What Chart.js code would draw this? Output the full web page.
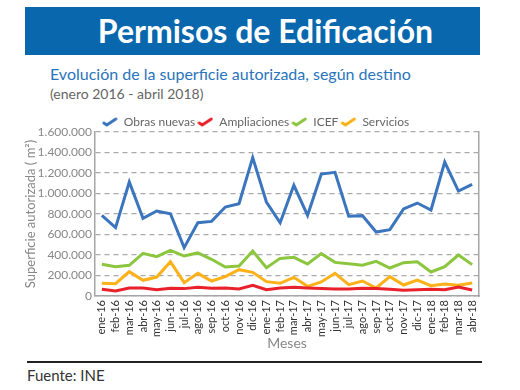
<!DOCTYPE html>
<html lang="es">
<head>
<meta charset="utf-8">
<script src="https://cdn.jsdelivr.net/npm/chart.js@4.4.1/dist/chart.umd.min.js"></script>
<style>
  html, body { margin: 0; padding: 0; background: #fff; }
  body { width: 520px; height: 390px; position: relative; overflow: hidden; font-family: Lato, "Open Sans", sans-serif; }
  .banner { position: absolute; left: 25px; top: 7px; width: 455px; height: 48px; background: #0867ad; color: #fff;
    font-weight: bold; font-size: 32px; line-height: 48px; text-align: center; padding-left: 26px; box-sizing: border-box; }
  .sub { position: absolute; left: 50px; top: 64px; font-size: 16px; color: #2a74bb; }
  .fecha { position: absolute; left: 50px; top: 85px; font-size: 14px; color: #666; }
  .wrap { position: absolute; left: 0; top: 100px; width: 520px; height: 260px; }
  .regla { position: absolute; left: 27px; top: 361px; width: 455px; height: 2px; background: #222; }
  .fuente { position: absolute; left: 27px; top: 366px; font-size: 15px; color: #333; }
</style>
</head>
<body>
<div class="banner">Permisos de Edificación</div>
<div class="sub">Evolución de la superficie autorizada, según destino</div>
<div class="fecha">(enero 2016 - abril 2018)</div>
<div class="wrap"><canvas id="grafico"></canvas></div>
<div class="regla"></div>
<div class="fuente">Fuente: INE</div>

<script>
// ==================== DATOS ====================
const meses = [
  "ene-16", "feb-16", "mar-16", "abr-16", "may-16", "jun-16", "jul-16", "ago-16", "sep-16", "oct-16", "nov-16", "dic-16",
  "ene-17", "feb-17", "mar-17", "abr-17", "may-17", "jun-17", "jul-17", "ago-17", "sep-17", "oct-17", "nov-17", "dic-17",
  "ene-18", "feb-18", "mar-18", "abr-18"
];
const obrasNuevas = [
  787000, 667000, 1112000, 758000, 829000, 803000, 472000, 715000, 728000, 868000, 900000, 1350000,
  917000, 715000, 1080000, 787000, 1190000, 1207000, 779000, 784000, 624000, 647000, 849000, 907000,
  839000, 1307000, 1024000, 1089000
];
const ampliaciones = [
  65000, 49000, 78000, 78000, 62000, 75000, 72000, 85000, 75000, 78000, 68000, 104000,
  62000, 78000, 85000, 78000, 72000, 68000, 68000, 75000, 72000, 65000, 55000, 62000,
  65000, 62000, 88000, 59000
];
const icef = [
  309000, 286000, 299000, 416000, 384000, 445000, 390000, 420000, 358000, 283000, 293000, 439000,
  276000, 367000, 377000, 312000, 413000, 328000, 315000, 300000, 338000, 273000, 325000, 334000,
  234000, 286000, 400000, 306000
];
const servicios = [
  124000, 120000, 237000, 153000, 185000, 335000, 130000, 221000, 146000, 189000, 257000, 231000,
  140000, 124000, 182000, 94000, 137000, 221000, 111000, 146000, 78000, 189000, 107000, 156000,
  101000, 117000, 104000, 127000
];
const yTicks = [0, 200000, 400000, 600000, 800000, 1000000, 1200000, 1400000, 1600000];

// ==================== MARCA DE LEYENDA ====================
function marca(cor) {
  const c = document.createElement("canvas");
  c.width = 16;
  c.height = 10;
  const g = c.getContext("2d");
  g.strokeStyle = cor;
  g.lineWidth = 3;
  g.lineCap = "round";
  g.beginPath();
  g.moveTo(2, 6);
  g.lineTo(5, 8);
  g.lineTo(14, 2);
  g.stroke();
  return c;
}

function serie(label, data, cor) {
  return {
    label: label,
    data: data,
    borderColor: cor,
    backgroundColor: cor,
    borderWidth: 3,
    pointRadius: 0,
    tension: 0,
    fill: false,
    pointStyle: marca(cor),
  };
}

new Chart(document.getElementById("grafico"), {
  type: "line",
  data: {
    labels: meses,
    datasets: [
      serie("Obras nuevas", obrasNuevas, "#3b75bd"),
      serie("Ampliaciones", ampliaciones, "#e8212b"),
      serie("ICEF", icef, "#8cc63f"),
      serie("Servicios", servicios, "#fbb117"),
    ],
  },
  options: {
    responsive: true,
    maintainAspectRatio: false,
    animation: false,
    layout: { padding: { top: 14, left: 0, right: 9, bottom: 8 } },
    plugins: {
      tooltip: { enabled: false },
      legend: {
        maxHeight: 18,
        labels: {
          usePointStyle: true,
          pointStyleWidth: 16,
          padding: 2,
          color: "#666",
          font: { family: "Lato", size: 12 },
        },
      },
    },
    scales: {
      x: {
        offset: true,
        grid: { display: false, drawTicks: false },
        border: { color: "#a6a6a6", width: 1.5 },
        ticks: {
          maxRotation: 90,
          minRotation: 90,
          autoSkip: false,
          padding: 4,
          color: "#333",
          font: { family: "Lato", size: 11 },
        },
        title: {
          display: true,
          text: "Meses",
          color: "#888",
          padding: { top: 0, bottom: 0 },
          font: { family: "Lato", size: 14 },
        },
        afterFit: (scale) => { scale.height = 56; },
      },
      y: {
        min: 0,
        max: 1600000,
        afterBuildTicks: (scale) => { scale.ticks = yTicks.map((v) => ({ value: v })); },
        grid: { color: "#aaa", lineWidth: 1.2, drawTicks: false },
        border: { color: "#a6a6a6", width: 1.5, dash: [5, 4], display: true },
        ticks: {
          padding: 3,
          color: "#888",
          font: { family: "Lato", size: 12 },
          callback: (v) => String(v).replace(/\B(?=(\d{3})+(?!\d))/g, "."),
        },
        title: {
          display: true,
          text: "Superficie autorizada ( m²)",
          color: "#888",
          padding: { top: 23, bottom: 0 },
          font: { family: "Lato", size: 13 },
        },
        afterFit: (scale) => { scale.width = 95; },
      },
      // eje derecho vacío: sólo dibuja el borde del área
      y2: {
        position: "right",
        min: 0,
        max: 1600000,
        grid: { display: false, drawTicks: false },
        border: { color: "#a6a6a6", width: 1.5 },
        ticks: { display: false },
        afterFit: (scale) => { scale.width = 32; },
      },
    },
  },
});
</script>
</body>
</html>
